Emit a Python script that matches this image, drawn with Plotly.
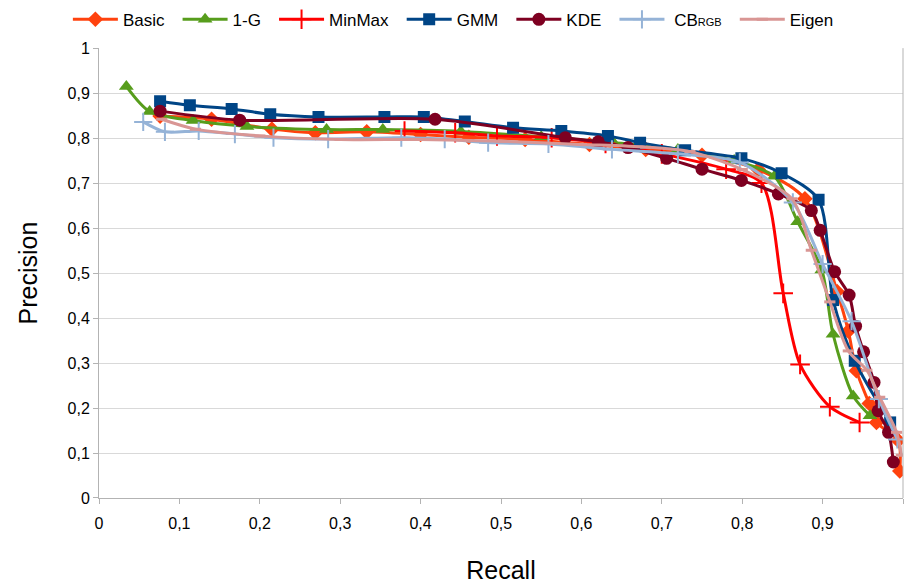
import plotly.graph_objects as go

# ---- data (recall, precision) ----
basic_x = [0.076, 0.140, 0.215, 0.269, 0.333, 0.400, 0.460, 0.530, 0.610, 0.680, 0.750, 0.820, 0.878, 0.918, 0.932, 0.942, 0.958, 0.967, 0.994, 0.996]
basic_y = [0.849, 0.842, 0.820, 0.812, 0.814, 0.808, 0.802, 0.797, 0.786, 0.775, 0.762, 0.730, 0.665, 0.459, 0.371, 0.283, 0.210, 0.168, 0.128, 0.060]

g1_x = [0.034, 0.063, 0.117, 0.184, 0.283, 0.353, 0.450, 0.550, 0.640, 0.720, 0.790, 0.840, 0.869, 0.899, 0.913, 0.938, 0.959]
g1_y = [0.915, 0.859, 0.839, 0.826, 0.819, 0.819, 0.815, 0.803, 0.790, 0.775, 0.750, 0.715, 0.614, 0.507, 0.364, 0.227, 0.183]

minmax_x = [0.380, 0.443, 0.495, 0.563, 0.630, 0.700, 0.780, 0.824, 0.851, 0.872, 0.909, 0.946]
minmax_y = [0.816, 0.812, 0.805, 0.801, 0.788, 0.765, 0.731, 0.700, 0.455, 0.297, 0.203, 0.168]

gmm_x = [0.076, 0.113, 0.165, 0.213, 0.273, 0.355, 0.404, 0.455, 0.515, 0.575, 0.633, 0.673, 0.729, 0.799, 0.849, 0.895, 0.913, 0.940, 0.984]
gmm_y = [0.882, 0.873, 0.865, 0.853, 0.847, 0.847, 0.847, 0.837, 0.823, 0.816, 0.805, 0.790, 0.773, 0.755, 0.722, 0.663, 0.440, 0.305, 0.168]

kde_x = [0.076, 0.175, 0.418, 0.580, 0.621, 0.658, 0.706, 0.750, 0.799, 0.845, 0.886, 0.897, 0.915, 0.933, 0.941, 0.951, 0.964, 0.969, 0.982, 0.988]
kde_y = [0.860, 0.840, 0.842, 0.801, 0.792, 0.779, 0.755, 0.731, 0.706, 0.676, 0.639, 0.595, 0.503, 0.451, 0.382, 0.325, 0.257, 0.194, 0.146, 0.080]

cb_x = [0.055, 0.082, 0.124, 0.169, 0.217, 0.285, 0.376, 0.430, 0.484, 0.559, 0.638, 0.720, 0.797, 0.863, 0.900, 0.936, 0.970, 0.993]
cb_y = [0.836, 0.814, 0.816, 0.809, 0.801, 0.798, 0.801, 0.798, 0.790, 0.787, 0.775, 0.765, 0.746, 0.657, 0.520, 0.393, 0.220, 0.130]

eig_x = [0.078, 0.120, 0.200, 0.300, 0.400, 0.500, 0.600, 0.680, 0.735, 0.800, 0.862, 0.886, 0.909, 0.932, 0.955, 0.971, 0.992, 0.998]
eig_y = [0.842, 0.820, 0.805, 0.797, 0.797, 0.793, 0.786, 0.780, 0.770, 0.730, 0.665, 0.551, 0.436, 0.327, 0.284, 0.224, 0.146, 0.095]

x_ticks = [0, 0.1, 0.2, 0.3, 0.4, 0.5, 0.6, 0.7, 0.8, 0.9, 1]
tick_labels = ["0", "0,1", "0,2", "0,3", "0,4", "0,5", "0,6", "0,7", "0,8", "0,9", "1"]

PAD = "\u00a0\u2009"
series = [
    ("Basic", basic_x, basic_y, "#FF420E", dict(symbol="diamond", size=12)),
    ("1-G", g1_x, g1_y, "#579D1C", dict(symbol="triangle-up", size=13)),
    ("MinMax", minmax_x, minmax_y, "#FF0000", dict(symbol="cross-thin", size=14, line=dict(width=2, color="#FF0000"))),
    ("GMM", gmm_x, gmm_y, "#004586", dict(symbol="square", size=12)),
    ("KDE", kde_x, kde_y, "#7E0021", dict(symbol="circle", size=13)),
    ("\u00a0CB<span style='font-size:11px'>RGB</span>", cb_x, cb_y, "#95B3D7", dict(symbol="cross-thin", size=13, line=dict(width=2, color="#95B3D7"))),
    ("Eigen", eig_x, eig_y, "#D99694", dict(symbol="line-ew", size=8, line=dict(width=3, color="#D99694"))),
]

fig = go.Figure()
for name, xs, ys, col, mk in series:
    m = dict(color=col)
    m.update(mk)
    fig.add_trace(go.Scatter(
        x=xs, y=ys, name=name + PAD, mode="lines+markers",
        line=dict(color=col, width=3, shape="spline", smoothing=0.8),
        marker=m,
    ))

font_family = "Liberation Sans, Arial, sans-serif"
fig.update_layout(
    width=905, height=585,
    margin=dict(l=99, r=2, t=45, b=87),
    paper_bgcolor="white", plot_bgcolor="white",
    font=dict(family=font_family, color="black", size=16),
    showlegend=True,
    legend=dict(orientation="h", xref="container", yref="container",
                x=0.075, y=0.997, xanchor="left", yanchor="top",
                font=dict(size=17), itemwidth=45, tracegroupgap=0,
                bgcolor="rgba(0,0,0,0)"),
    xaxis=dict(range=[0, 1], tickvals=x_ticks, ticktext=tick_labels,
               showgrid=False, zeroline=False, showline=True, linecolor="#b3b3b3",
               linewidth=1, mirror=False, ticks="outside", ticklen=5, tickcolor="#b3b3b3",
               ticklabelstandoff=6,
               tickfont=dict(size=16), title=dict(text="Recall", font=dict(size=25), standoff=30)),
    yaxis=dict(range=[0, 1], tickvals=x_ticks, ticktext=tick_labels,
               showgrid=True, gridcolor="#d9d9d9", gridwidth=1, zeroline=False,
               showline=True, linecolor="#b3b3b3", linewidth=1,
               ticks="outside", ticklen=5, tickcolor="#b3b3b3",
               tickfont=dict(size=16), title=dict(text="Precision", font=dict(size=25), standoff=22)),
)
# right border line of plot area
fig.add_shape(type="line", xref="paper", yref="paper", x0=1, x1=1, y0=0, y1=1,
              line=dict(color="#b3b3b3", width=1))

fig.write_html("out.html")
